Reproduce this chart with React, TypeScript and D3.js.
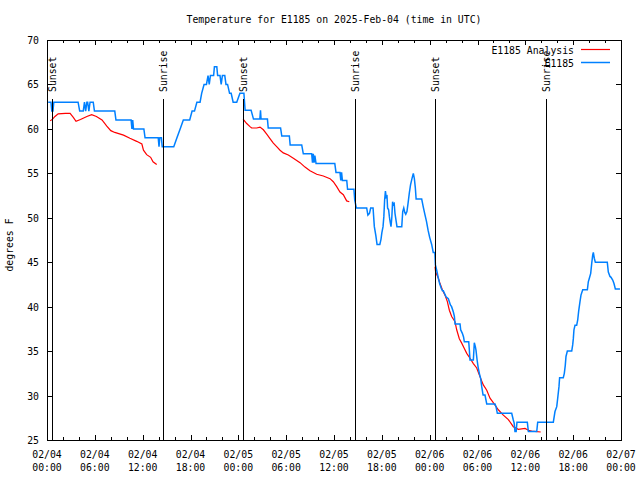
import React from "react";
import * as d3 from "d3";

// hours since 2025-02-04 00:00 UTC, temperature (F)
const obsSeries: [number, number][] = [
  [0.15,63],[0.5,63],[0.6,62],[0.75,62],[0.85,63],[3.9,63],[4.1,62],[4.55,62],[4.7,63],[4.85,62],[5.0,63],[5.1,63],[5.25,62],[5.4,63],[5.8,63],[5.95,62],[8.5,62],[8.65,61],[10.55,61],[10.65,60],[10.75,61],[10.85,60],[12.15,60],[12.3,59],[13.95,59],[14.05,58],[14.15,59],[14.35,59],[14.45,58],[15.9,58],[16.3,59],[16.7,60],[17.1,61],[17.9,61],[18.2,62],[18.5,62],[18.8,63],[19.2,63],[19.4,64],[19.7,65],[20.0,65],[20.2,66],[20.35,65],[20.5,66],[20.9,66],[21.0,67],[21.3,67],[21.4,66],[21.7,66],[21.85,65],[22.0,66],[22.3,66],[22.45,65],[22.65,65],[22.9,64],[23.1,64],[23.35,63],[23.8,63],[24.2,64],[24.7,64],
  [24.85,62.1],[25.6,62.1],[25.75,61.6],[25.9,61.1],[26.7,61.1],[26.78,62.1],[26.85,61.1],[27.65,61.1],[27.75,60.1],[29.3,60.1],[29.45,59.2],[30.4,59.2],[30.5,58.2],[31.95,58.2],[32.15,57.2],[33.2,57.2],[33.3,56.2],[33.4,57.2],[33.5,56.2],[33.6,57.0],[33.75,56.1],[36.1,56.1],[36.25,55.1],[36.75,55.1],[36.85,54.2],[36.95,55.1],[37.05,54.2],[37.6,54.2],[37.7,53.2],[38.5,53.2],[38.6,52],[38.8,51.1],[40.1,51.1],[40.25,50.3],[40.45,50.5],[40.6,51.1],[40.9,51.1],[41.06,49],[41.25,48],[41.4,47],[41.75,47],[41.9,47.6],[42.0,48.3],[42.15,49],[42.25,50.1],[42.35,52],[42.45,53],[42.55,52.3],[42.65,52.4],[42.72,51.1],[42.85,50.9],[42.95,50.1],[43.05,49.5],[43.15,49],[43.25,50],[43.35,51.8],[43.45,51.5],[43.55,51.6],[43.65,50.5],[43.8,49.6],[43.9,49],[44.5,49],[44.62,50.7],[44.75,51.1],[44.88,50.6],[45.0,50.4],[45.15,50.7],[45.3,51.7],[45.45,52.8],[45.6,53.7],[45.78,54.4],[45.95,55],[46.08,54.4],[46.2,53.4],[46.3,52.1],[47.0,52.1],[47.2,51.2],[47.42,50.3],[47.6,49.6],[47.8,48.6],[48.0,47.8],[48.25,47],[48.45,46.1],[48.65,46.1],
  [48.72,44.7],[48.88,44.1],[49.09,43.2],[49.25,42.6],[49.45,42.07],[49.6,41.8],[49.71,41.8],[50.05,41.1],[50.34,40.9],[50.45,40.6],[50.6,40.2],[50.75,40.0],[50.97,39.4],[51.1,38.9],[51.18,38.05],[51.81,38.05],[51.89,37.4],[52.1,37],[52.25,36.6],[52.35,36.05],[52.9,36.05],[52.98,35.1],[53.06,34.0],[53.48,34.0],[53.6,35.95],[53.73,35.5],[53.81,35.1],[53.95,34.0],[54.1,33.07],[54.23,32.5],[54.4,31.9],[54.53,31],[54.7,30.06],[54.94,30.06],[55.16,29.05],[56.2,29.05],[56.32,28.75],[56.49,28.0],[58.29,28.0],[58.49,27.25],[58.6,26.9],[58.7,25.95],[58.85,25.95],[58.95,27],[60.25,27],[60.38,25.95],[61.43,25.95],[61.55,27],[63.51,27],
  [63.72,28.2],[63.94,28.75],[64.06,29.7],[64.22,31],[64.3,32],[64.76,32],[64.89,32.5],[65.01,33.4],[65.1,34.4],[65.27,35],[65.82,35],[65.94,35.7],[66.02,36.4],[66.1,37.4],[66.23,37.9],[66.44,37.9],[66.57,38.5],[66.69,39.5],[66.86,40.6],[66.98,41.3],[67.2,41.9],[67.78,41.9],[67.9,42.8],[68.03,43.2],[68.2,43.75],[68.33,44.9],[68.45,45.8],[68.53,46.1],[68.65,45.45],[68.78,45],[70.28,45],[70.41,43.9],[70.62,43.4],[70.75,43.3],[70.96,43],[71.12,42.6],[71.29,42],[71.87,42],
];

const analysisNight1: [number, number][] = [
  [0.4,60.9],[0.7,61.1],[1.0,61.4],[1.4,61.7],[2.3,61.75],[2.9,61.75],[3.3,61.3],[3.64,60.85],[4.2,61.05],[5.0,61.4],[5.6,61.6],[6.2,61.4],[6.9,61.0],[7.5,60.3],[8.0,59.8],[8.5,59.6],[9.6,59.3],[10.4,58.95],[11.25,58.6],[11.9,58.3],[12.1,57.6],[12.5,57.1],[13.0,56.8],[13.3,56.3],[13.76,56.0],
];
const analysisNight2: [number, number][] = [
  [24.6,61.1],[25.05,60.6],[25.46,60.25],[25.67,60.1],[26.3,60.1],[26.72,60.2],[27.14,59.9],[27.56,59.4],[27.97,58.9],[28.39,58.4],[28.81,58.0],[29.23,57.6],[29.64,57.3],[30.27,57.06],[30.9,56.7],[31.74,56.2],[32.36,55.7],[32.99,55.3],[33.83,54.9],[34.66,54.7],[35.5,54.4],[35.91,54.06],[36.34,53.5],[36.75,52.9],[37.17,52.6],[37.59,51.9],[37.92,51.8],
];
const analysisNight3: [number, number][] = [
  [48.67,44.5],[48.75,43.9],[49.09,43.2],[49.3,42.6],[49.59,41.9],[49.92,41.3],[50.21,40.6],[50.47,39.6],[50.76,38.9],[51.18,38.3],[51.39,37.4],[51.72,36.4],[52.02,35.9],[52.35,35.3],[52.65,34.75],[53.06,34.2],[53.48,33.6],[53.9,33.1],[54.32,32.1],[54.73,31.2],[55.16,30.6],[55.57,29.7],[55.98,29.2],[56.61,28.4],[57.24,27.8],[57.87,27.3],[58.49,26.5],[59.12,26.2],[59.96,26.3],[60.38,26.1],[60.8,26.0],[61.93,25.9],
];
const analysisSegments = [analysisNight1, analysisNight2, analysisNight3];

const sunEvents: { h: number; label: string }[] = [
  { h: 0.67, label: "Sunset" },
  { h: 14.59, label: "Sunrise" },
  { h: 24.63, label: "Sunset" },
  { h: 38.68, label: "Sunrise" },
  { h: 48.71, label: "Sunset" },
  { h: 62.64, label: "Sunrise" },
];

const yTickValues = [25, 30, 35, 40, 45, 50, 55, 60, 65, 70];
const titleText = "Temperature for E1185 on 2025-Feb-04 (time in UTC)";
const yLabelText = "degrees F";
const legendItems = [
  { label: "E1185 Analysis", color: "#ff0000", width: 1.2 },
  { label: "E1185", color: "#0080ff", width: 1.5 },
];

const BASE = Date.UTC(2025, 1, 4, 0, 0, 0);
const toDate = (h: number) => new Date(BASE + h * 3600000);

export default function App() {
  const W = 640, H = 480;
  const L = 47, R = 621, T = 40, B = 440;
  const x = d3.scaleUtc().domain([toDate(0), toDate(72)]).range([L, R]);
  const y = d3.scaleLinear().domain([25, 70]).range([B, T]);
  const line = d3
    .line<[number, number]>()
    .x((d) => x(toDate(d[0])))
    .y((d) => y(d[1]));
  const font = "'DejaVu Sans Mono', 'Liberation Mono', monospace";
  const fs = 9.8;

  const minorTicks = x.ticks(d3.utcHour.every(2)!);
  const majorTicks = x.ticks(d3.utcHour.every(6)!);
  const fmtDate = d3.utcFormat("%m/%d");
  const fmtTime = d3.utcFormat("%H:%M");
  const isMajor = (d: Date) => d.getUTCHours() % 6 === 0;

  return (
    <svg
      width={W}
      height={H}
      style={{ position: "absolute", left: 0, top: 0, background: "#fff" }}
      fontFamily={font}
      fontSize={fs}
    >
      <rect x={0} y={0} width={W} height={H} fill="#fff" />
      {/* data */}
      {analysisSegments.map((seg, i) => (
        <path key={"a" + i} d={line(seg) || ""} fill="none" stroke={legendItems[0].color} strokeWidth={legendItems[0].width} />
      ))}
      <path d={line(obsSeries) || ""} fill="none" stroke={legendItems[1].color} strokeWidth={legendItems[1].width} />

      {/* sun events */}
      {sunEvents.map((e, i) => {
        const xp = Math.round(x(toDate(e.h))) + 0.5;
        return (
          <g key={"s" + i}>
            <line x1={xp} x2={xp} y1={99} y2={B} stroke="#000" strokeWidth={1} shapeRendering="crispEdges" />
            <text
              transform={`translate(${xp + 3.5},92) rotate(-90)`}
              textAnchor="start"
              fill="#000"
            >
              {e.label}
            </text>
          </g>
        );
      })}

      {/* frame */}
      <rect x={L} y={T} width={R - L} height={B - T} fill="none" stroke="#000" strokeWidth={1} shapeRendering="crispEdges" />

      {/* y ticks */}
      {yTickValues.map((v) => {
        const yp = Math.round(y(v));
        return (
          <g key={"y" + v}>
            <line x1={L} x2={L + 5} y1={yp} y2={yp} stroke="#000" shapeRendering="crispEdges" />
            <line x1={R - 5} x2={R} y1={yp} y2={yp} stroke="#000" shapeRendering="crispEdges" />
            <text x={39} y={yp + 3.5} textAnchor="end" fill="#000">{v}</text>
          </g>
        );
      })}

      {/* x ticks */}
      {minorTicks.map((d, i) => {
        const xp = Math.round(x(d));
        const len = isMajor(d) ? 5 : 3;
        return (
          <g key={"xt" + i}>
            <line x1={xp} x2={xp} y1={B} y2={B - len} stroke="#000" shapeRendering="crispEdges" />
            <line x1={xp} x2={xp} y1={T} y2={T + len} stroke="#000" shapeRendering="crispEdges" />
          </g>
        );
      })}
      {majorTicks.map((d, i) => {
        const xp = x(d);
        return (
          <g key={"xl" + i}>
            <text x={xp} y={458} textAnchor="middle" fill="#000">{fmtDate(d)}</text>
            <text x={xp} y={471} textAnchor="middle" fill="#000">{fmtTime(d)}</text>
          </g>
        );
      })}

      {/* title */}
      <text x={(L + R) / 2} y={23} textAnchor="middle" fill="#000">{titleText}</text>

      {/* y label */}
      <text transform="translate(13,245) rotate(-90)" textAnchor="middle" fill="#000">{yLabelText}</text>

      {/* legend */}
      {legendItems.map((it, i) => {
        const ly = 49.5 + i * 13;
        return (
          <g key={"lg" + i}>
            <text x={574} y={ly + 4} textAnchor="end" fill="#000">{it.label}</text>
            <line x1={581} x2={610} y1={ly} y2={ly} stroke={it.color} strokeWidth={it.width} />
          </g>
        );
      })}
    </svg>
  );
}
